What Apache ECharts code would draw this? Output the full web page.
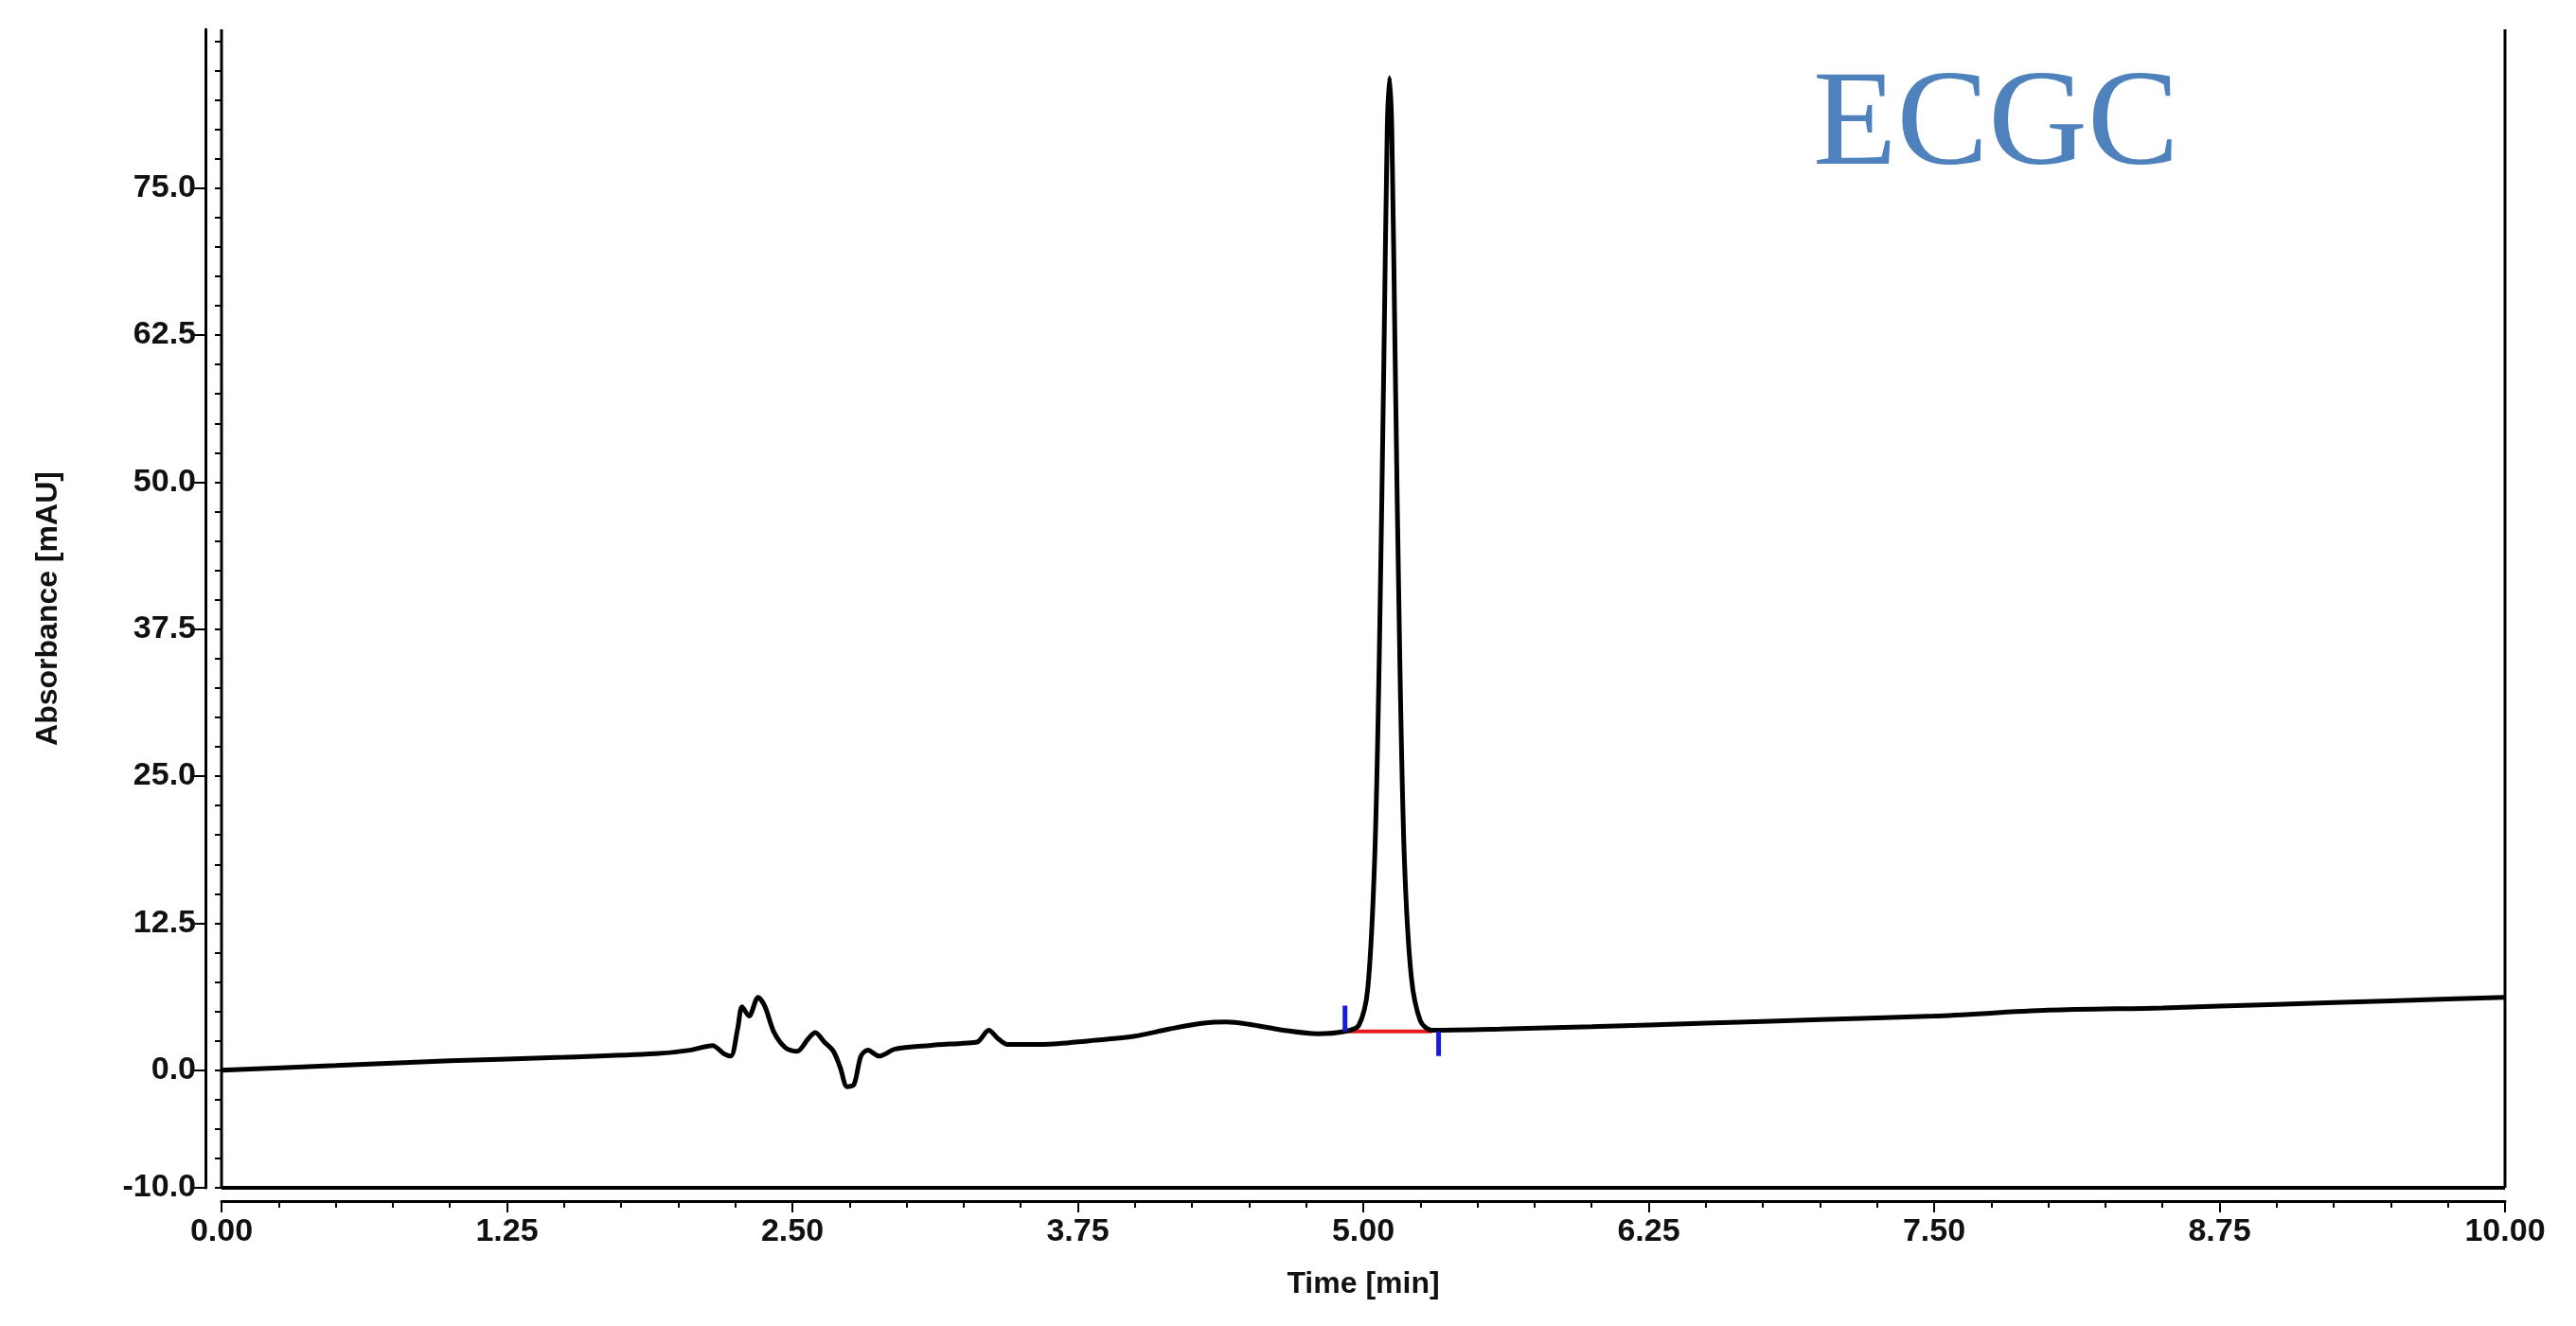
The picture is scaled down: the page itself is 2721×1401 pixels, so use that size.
<!DOCTYPE html>
<html>
<head>
<meta charset="utf-8">
<script src="https://cdn.jsdelivr.net/npm/echarts@6/dist/echarts.min.js"></script>
<style>
  html, body { margin: 0; padding: 0; background: #fff; }
  #chart { width: 2721px; height: 1401px; }
</style>
</head>
<body>
<div id="chart"></div>
<script>
// chromatogram trace, [time min, absorbance mAU]
const trace = [
  [0, 0], [0.5, 0.4], [1.0, 0.8], [1.5, 1.1], [1.9, 1.4], [2.05, 1.7], [2.15, 2.1],
  [2.2, 1.4], [2.23, 1.2], [2.26, 3.5], [2.28, 5.4], [2.31, 4.6], [2.35, 6.2],
  [2.38, 5.4], [2.42, 3.2], [2.47, 1.9], [2.52, 1.6], [2.57, 2.7], [2.6, 3.2],
  [2.64, 2.4], [2.68, 1.6], [2.71, 0.2], [2.74, -1.4], [2.77, -1.2], [2.8, 1.2],
  [2.83, 1.7], [2.88, 1.2], [2.95, 1.8], [3.1, 2.1], [3.25, 2.3], [3.31, 2.4],
  [3.36, 3.4], [3.4, 2.7], [3.44, 2.2], [3.6, 2.2], [3.8, 2.5], [4.0, 2.9],
  [4.15, 3.5], [4.3, 4.0], [4.4, 4.1], [4.5, 3.9], [4.65, 3.4], [4.8, 3.1],
  [4.92, 3.3], [4.98, 3.8], [5.02, 7], [5.05, 18], [5.07, 35], [5.09, 60],
  [5.105, 80], [5.115, 84.4], [5.125, 80], [5.14, 60], [5.16, 35], [5.18, 18],
  [5.21, 8], [5.25, 4.2], [5.3, 3.4], [5.6, 3.5], [6.0, 3.7], [6.5, 4.0],
  [7.0, 4.3], [7.5, 4.6], [8.0, 5.1], [8.5, 5.3], [9.0, 5.6], [9.5, 5.9], [10.0, 6.2]
];
const peakBase = [[4.92, 3.3], [5.3, 3.3]];
const startMark = [[4.92, 3.3], [4.92, 5.5]];
const endMark = [[5.33, 3.3], [5.33, 1.2]];
const yLabels = [-10, 0, 12.5, 25, 37.5, 50, 62.5, 75];
const yMinor = [];
for (let v = -10; v <= 87.5; v += 2.5) yMinor.push(v);

const font = 'Liberation Sans, Arial, sans-serif';
const chart = echarts.init(document.getElementById('chart'));
chart.setOption({
  animation: false,
  grid: { left: 234, right: 75, top: 31, bottom: 146, show: true, borderColor: 'transparent' },
  graphic: [
    { type: 'text', left: 1915, top: 62,
      style: { text: 'ECGC', font: '145px "Liberation Serif", serif', fill: '#4f81bd',
               shadowColor: 'rgba(0,0,0,0.35)', shadowBlur: 6, shadowOffsetX: 3, shadowOffsetY: 3 } },
    // plot frame: left, right, bottom
    { type: 'line', shape: { x1: 234, y1: 31, x2: 234, y2: 1255 }, style: { stroke: '#000', lineWidth: 3 } },
    { type: 'line', shape: { x1: 2646, y1: 31, x2: 2646, y2: 1255 }, style: { stroke: '#000', lineWidth: 3 } },
    { type: 'line', shape: { x1: 234, y1: 1255, x2: 2646, y2: 1255 }, style: { stroke: '#000', lineWidth: 4 } }
  ],
  xAxis: {
    type: 'value', min: 0, max: 10, interval: 1.25, offset: 14,
    name: 'Time [min]', nameLocation: 'middle', nameGap: 72,
    nameTextStyle: { fontFamily: font, fontSize: 32, fontWeight: 'bold', color: '#111' },
    axisLine: { onZero: false, lineStyle: { color: '#000', width: 3 } },
    axisTick: { inside: false, length: 12, lineStyle: { color: '#000', width: 2 } },
    minorTick: { show: true, splitNumber: 5, length: 7, lineStyle: { color: '#000', width: 2 } },
    splitLine: { show: false },
    axisLabel: { fontFamily: font, fontSize: 34, fontWeight: 'bold', color: '#111', margin: 16,
                 formatter: v => v.toFixed(2) }
  },
  yAxis: [
    {
      type: 'value', min: -10, max: 88.5, offset: 17,
      name: 'Absorbance [mAU]', nameLocation: 'middle', nameGap: 150,
      nameTextStyle: { fontFamily: font, fontSize: 32, fontWeight: 'bold', color: '#111' },
      axisLine: { show: true, onZero: false, lineStyle: { color: '#000', width: 3 } },
      axisTick: { show: true, customValues: yLabels, length: 12, lineStyle: { color: '#000', width: 2 } },
      splitLine: { show: false },
      axisLabel: { customValues: yLabels, fontFamily: font, fontSize: 34, fontWeight: 'bold', color: '#111',
                   margin: 10, formatter: v => v.toFixed(1) }
    },
    {
      type: 'value', min: -10, max: 88.5, position: 'left', offset: 17,
      axisLine: { show: false },
      axisTick: { show: true, customValues: yMinor, length: 7, lineStyle: { color: '#000', width: 2 } },
      axisLabel: { show: false }, splitLine: { show: false }
    }
  ],
  series: [
    { type: 'line', data: trace, smooth: 0.3, symbol: 'none', lineStyle: { color: '#000', width: 5 }, z: 3 },
    { type: 'line', data: peakBase, symbol: 'none', lineStyle: { color: '#e8191e', width: 4 }, z: 2 },
    { type: 'line', data: startMark, symbol: 'none', lineStyle: { color: '#1a1adc', width: 5 }, z: 4 },
    { type: 'line', data: endMark, symbol: 'none', lineStyle: { color: '#1a1adc', width: 5 }, z: 4 }
  ]
});
</script>
</body>
</html>
